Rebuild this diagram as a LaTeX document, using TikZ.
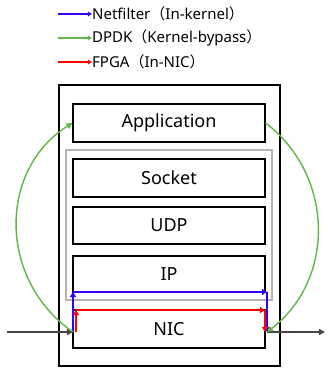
\documentclass[tikz,border=0pt]{standalone}
\usepackage{fontspec}
\setmainfont{Noto Sans}
\newfontfamily\cjk{Noto Sans CJK JP}
\usetikzlibrary{arrows.meta}
\definecolor{nfblue}{RGB}{51,0,255}
\definecolor{dpgreen}{RGB}{96,182,70}
\definecolor{fpred}{RGB}{255,0,0}
\definecolor{wiregray}{RGB}{70,70,70}
\definecolor{kernelgray}{RGB}{180,180,180}

\begin{document}
\begin{tikzpicture}[x=1pt,y=-1pt,
  layer/.style={draw,line width=1.2pt,minimum width=192pt,minimum height=38pt,inner sep=0pt,font=\fontsize{18}{21}\selectfont},
  flow/.style={line width=2.2pt,-{Triangle[length=5pt,width=6pt]}},
  bypass/.style={dpgreen,line width=1.4pt,-{Triangle[length=6pt,width=6pt]}},
  wire/.style={wiregray,line width=1.6pt,-{Triangle[length=6pt,width=6pt]}},
  keyarrow/.style={line width=1.6pt,-{Triangle[length=4pt,width=4.5pt]}},
  keytext/.style={anchor=west,inner sep=0pt,font=\fontsize{15}{18}\selectfont}]
\useasboundingbox (0,0) rectangle (328,368);

\node[keytext] (knf) at (92,14) {Netfilter{\cjk （}In-kernel{\cjk ）}};
\node[keytext] (kdp) at (92,38) {DPDK{\cjk （}Kernel-bypass{\cjk ）}};
\node[keytext] (kfp) at (92,62) {FPGA{\cjk （}In-NIC{\cjk ）}};
\draw[keyarrow,nfblue] (58,14) -- (knf.west);
\draw[keyarrow,dpgreen] (58,38) -- (kdp.west);
\draw[keyarrow,fpred] (58,62) -- (kfp.west);

\draw[line width=1.2pt] (59,85) rectangle (280,366);
\draw[kernelgray,line width=2pt] (66,150) rectangle (272,300);

\node[layer] (app) at (169,123) {Application};
\node[layer] (sock) at (169,178) {Socket};
\node[layer,minimum height=37pt] (udp) at (169,225.5) {UDP};
\node[layer,minimum height=36pt] (ip) at (169,274) {IP};
\node[layer] (nic) at (169,329) {NIC};

\coordinate (inpt) at (73,332);
\coordinate (outpt) at (267,332);
\coordinate (nfl) at (73,292);
\coordinate (nfr) at (267,292);
\coordinate (fpl) at (76,310);
\coordinate (fpr) at (265,310);

\draw[wire] (7,332) -- (inpt);
\draw[wire] (outpt) -- (325,332);

\draw[flow,nfblue] (inpt) -- (nfl);
\draw[flow,nfblue] (nfl) -- (nfr);
\draw[flow,nfblue] (nfr) -- (outpt);

\draw[flow,fpred] (fpl |- inpt) -- (fpl);
\draw[flow,fpred] (fpl) -- (fpr);
\draw[flow,fpred] (fpr) -- (fpr |- inpt);

\draw[bypass] (inpt) .. controls (-2,280) and (-2,170) .. (app.west);
\draw[bypass] (app.east) .. controls (334,175) and (336,279) .. (outpt);
\end{tikzpicture}
\end{document}
